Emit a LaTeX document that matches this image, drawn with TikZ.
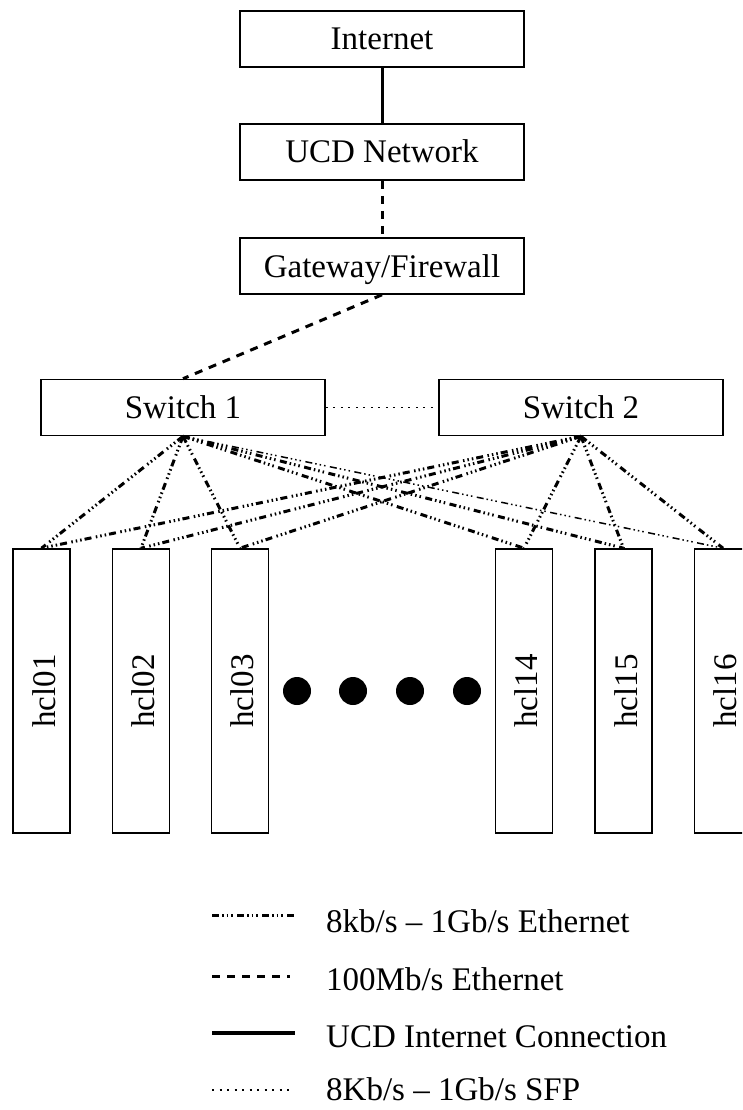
\documentclass[tikz,border=0pt]{standalone}
\usepackage{fontspec}
\setmainfont{Liberation Serif}
\begin{document}
\begin{tikzpicture}[x=1pt, y=-1pt,
  txt/.style={font=\fontsize{33pt}{40pt}\selectfont},
  netbox/.style={txt, draw, line width=1.6pt, inner sep=0pt,
    minimum width=284pt, minimum height=56pt, text height=22pt, text depth=0pt},
  hostbox/.style={draw, line width=1.6pt, inner sep=0pt,
    minimum width=57pt, minimum height=284pt},
  hostlabel/.style={txt, rotate=90, inner sep=0pt, text height=27pt, text depth=0pt},
  gige/.style={line width=3pt,
    dash pattern=on 7pt off 3pt on 1.5pt off 3pt on 1.5pt off 3pt on 1.5pt off 4.5pt},
  gigethin/.style={line width=1.5pt,
    dash pattern=on 7pt off 3pt on 1.5pt off 3pt on 1.5pt off 3pt on 1.5pt off 4.5pt},
  fast/.style={line width=3pt, dash pattern=on 8pt off 7pt},
  uplink/.style={line width=3pt},
  sfp/.style={line width=1.8pt, dash pattern=on 2pt off 5.5pt},
  dot/.style={fill=black}]

\useasboundingbox (0,0) rectangle (742,1110);
\clip (0,0) rectangle (742,1110);

% upstream chain
\node[netbox] (inet) at (382,39)  {Internet};
\node[netbox] (ucd)  at (382,152) {UCD Network};
\node[netbox] (gw)   at (382,266) {Gateway/Firewall};

% switches
\node[netbox] (sw1) at (183,407.5) {Switch 1};
\node[netbox] (sw2) at (581,407.5) {Switch 2};

% compute hosts
\foreach \n/\x/\lbl in {1/41.5/hcl01, 2/141/hcl02, 3/240/hcl03,
                        14/524/hcl14, 15/623.5/hcl15, 16/723/hcl16} {
  \node[hostbox] (h\n) at (\x,691) {};
  \node[hostlabel] (h\n-txt) at (h\n.center) {\lbl};
}

% ellipsis between hosts
\foreach \i/\x in {1/297, 2/353, 3/410, 4/467}
  \fill[dot] (\x,691) circle[radius=14pt];

% links
\draw[uplink] (inet.south) -- (ucd.north);
\draw[fast] (ucd.south) -- (gw.north);
\draw[fast] (gw.south) -- (sw1.north);
\draw[sfp] (sw1.east) -- (sw2.west);

\foreach \n in {1,2,3,14,15}
  \draw[gige] (sw1.south) -- (h\n.north);
\draw[gigethin] (sw1.south) -- (h16.north);
\foreach \n in {1,2,3,14,15,16}
  \draw[gige] (sw2.south) -- (h\n.north);

% legend
\coordinate (k1a) at (212,915);  \coordinate (k1b) at (294,915);
\coordinate (k2a) at (212,976);  \coordinate (k2b) at (290,976);
\coordinate (k3a) at (212,1033); \coordinate (k3b) at (295,1033);
\coordinate (k4a) at (212,1090); \coordinate (k4b) at (292,1090);
\draw[gige] (k1a) -- (k1b);
\draw[fast] (k2a) -- (k2b);
\draw[uplink, line width=3.3pt] (k3a) -- (k3b);
\draw[sfp] (k4a) -- (k4b);
\node[txt, anchor=base west, inner sep=0pt] (l1) at (326,932)  {8kb/s – 1Gb/s Ethernet};
\node[txt, anchor=base west, inner sep=0pt] (l2) at (326,990)  {100Mb/s Ethernet};
\node[txt, anchor=base west, inner sep=0pt] (l3) at (326,1047) {UCD Internet Connection};
\node[txt, anchor=base west, inner sep=0pt] (l4) at (326,1100) {8Kb/s – 1Gb/s SFP};
\end{tikzpicture}
\end{document}
